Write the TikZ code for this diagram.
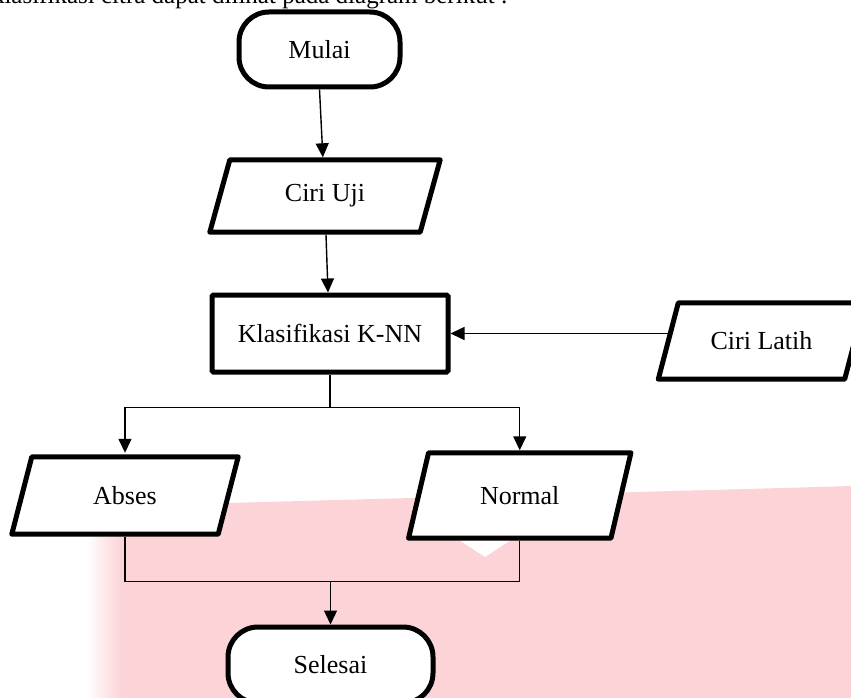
\documentclass[tikz,border=0pt]{standalone}
\usepackage{fontspec}
\setmainfont{Liberation Serif}
\usetikzlibrary{arrows.meta,calc}
\definecolor{wm}{RGB}{252,211,214}
\pgfdeclarelayer{bg}
\pgfsetlayers{bg,main}
\begin{document}
\begin{tikzpicture}[x=1pt,y=-1pt,
  txt/.style={font=\fontsize{26}{30}\selectfont},
  term/.style={txt, draw, line width=5pt, rounded corners=30pt, minimum width=161pt, minimum height=75pt, inner sep=0pt, fill=white},
  proc/.style={txt, draw, line width=5pt, rounded corners=1.5pt, inner sep=0pt, fill=white},
  iobox/.style={txt, inner sep=0pt},
  conn/.style={line width=1.4pt},
  arr/.style={conn, -{Triangle[length=14pt,width=13pt]}},
  slantbox/.style={line width=5pt, line join=round, fill=white}
]
\useasboundingbox (0,0) rectangle (851,698);

% intro text (cut at top, as in the reference)
\node[font=\fontsize{25}{30}\selectfont, anchor=base east, inner sep=0pt] (intro) at (508,4) {klasifikasi citra dapat dilihat pada diagram berikut :};

% nodes
\node[term] (mulai) at (319.5,49.5) {Mulai};
\node[iobox, minimum width=210pt, minimum height=72pt] (ciriuji) at (325,196) {Ciri Uji};
\node[proc, minimum width=236pt, minimum height=77pt] (knn) at (330,333.5) {Klasifikasi K-NN};
\node[iobox, minimum width=186pt, minimum height=76pt] (latih) at (761.5,341) {Ciri Latih};
\node[iobox, minimum width=206pt, minimum height=77pt] (abses) at (125,495.5) {Abses};
\node[iobox, minimum width=202pt, minimum height=85pt] (normal) at (519.75,495.5) {Normal};
\node[term, minimum width=205pt, minimum height=76pt] (selesai) at (330.5,665) {Selesai};

% background: watermark and parallelograms
\begin{pgfonlayer}{bg}
  \shade[left color=white, right color=wm] (86,510) rectangle (122,698);
  \fill[wm] (122,506) .. controls (400,498) and (650,492) .. (851,486) -- (851,698) -- (122,698) -- cycle;
  \fill[white] (456,538) -- (514,538) -- (485,557) -- cycle;
  \foreach \n in {ciriuji,latih,abses,normal}{
    \draw[slantbox] ([xshift=10pt]\n.north west) -- ([xshift=10pt]\n.north east)
      -- ([xshift=-10pt]\n.south east) -- ([xshift=-10pt]\n.south west) -- cycle;
  }
\end{pgfonlayer}

% connectors
\draw[arr, shorten >=2.5pt] (mulai.south) -- ([xshift=-2pt]ciriuji.north);
\draw[arr] ([xshift=1pt,yshift=-2.5pt]ciriuji.south) -- ([xshift=-2pt]knn.north);
\draw[arr] (latih.west |- knn.east) -- (knn.east);

\coordinate (split) at ([yshift=-33pt]knn.south);
\draw[conn] (knn.south) -- (split);
\draw[arr, shorten >=4pt] (split) -| (abses.north);
\draw[arr, shorten >=2.5pt] (split) -| (normal.north);

\coordinate (merge) at ([yshift=-47pt]abses.south);
\draw[conn] ([yshift=-2.5pt]abses.south) |- (normal.south |- merge) -- ([yshift=-2.5pt]normal.south);
\draw[arr] (merge -| selesai.north) -- (selesai.north);
\end{tikzpicture}
\end{document}
